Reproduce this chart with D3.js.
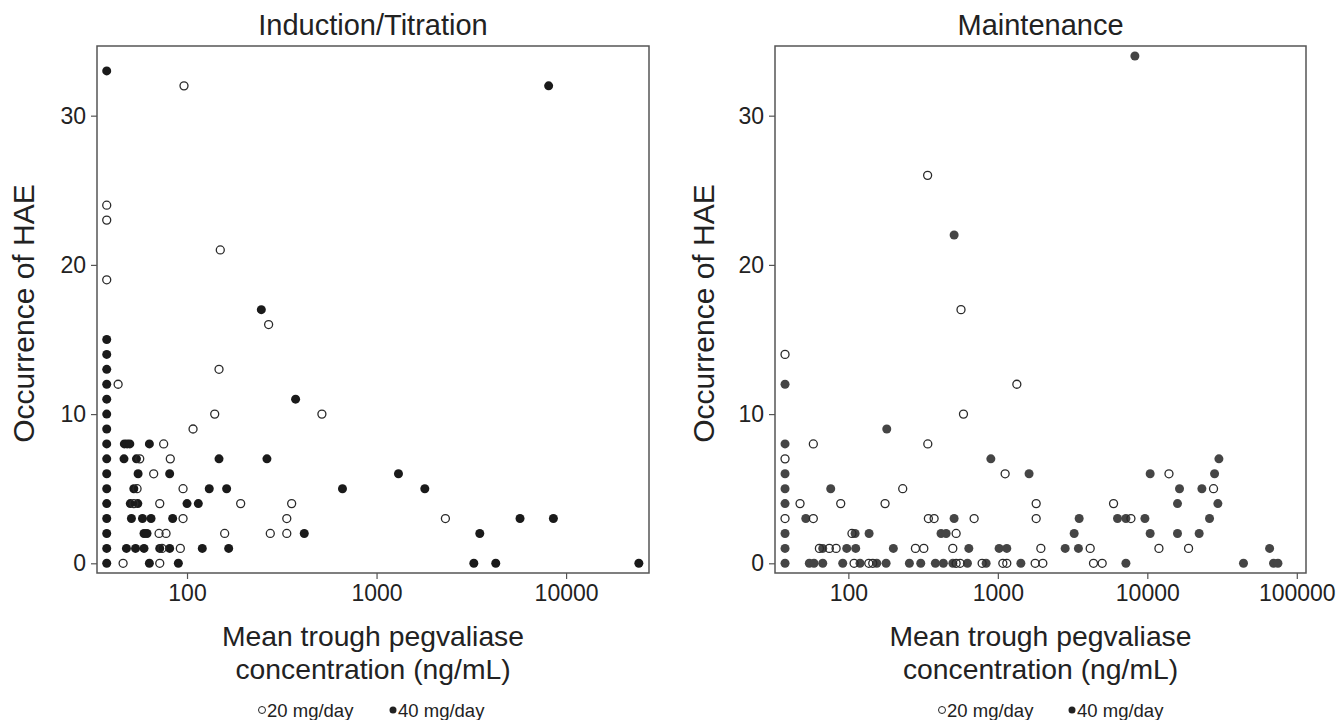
<!DOCTYPE html>
<html>
<head>
<meta charset="utf-8">
<script src="https://cdnjs.cloudflare.com/ajax/libs/d3/7.8.5/d3.min.js"></script>
<style>
  body { margin: 0; background: #fff; }
  svg { font-family: "Liberation Sans", Arial, Helvetica, sans-serif; }
</style>
</head>
<body>
<div id="chart"></div>
<script>
// concentration (ng/mL) and HAE count pairs
var LLOQ = 37.7;

var induction20 = [
  [LLOQ, 19], [LLOQ, 23], [LLOQ, 24],
  [46, 0], [71.8, 0],
  [73.8, 1], [92.2, 1],
  [71.2, 2], [77.5, 2], [158, 2], [275, 2], [336, 2],
  [95.3, 3], [336, 3], [2308, 3],
  [52.4, 4], [71.8, 4], [191.9, 4], [356.5, 4],
  [54.5, 5], [95.3, 5],
  [66.7, 6],
  [56.3, 7], [81.6, 7],
  [75.3, 8],
  [107.6, 9],
  [140, 10], [514.8, 10],
  [43.3, 12],
  [147.5, 13],
  [269.5, 16],
  [149.8, 21],
  [96.4, 32]
];

var induction40 = [
  [LLOQ, 0], [LLOQ, 1], [LLOQ, 2], [LLOQ, 3], [LLOQ, 4], [LLOQ, 5], [LLOQ, 6], [LLOQ, 7],
  [LLOQ, 8], [LLOQ, 9], [LLOQ, 10], [LLOQ, 11], [LLOQ, 12], [LLOQ, 13], [LLOQ, 14], [LLOQ, 15],
  [LLOQ, 33],
  [63.3, 0], [90, 0], [3260, 0], [4255, 0], [24200, 0],
  [47.9, 1], [53.5, 1], [59.3, 1], [71.8, 1], [81, 1], [120.4, 1], [165.9, 1],
  [59.3, 2], [61.5, 2], [415.5, 2], [3504, 2],
  [50.9, 3], [58.2, 3], [64.6, 3], [84, 3], [5714, 3], [8570, 3],
  [50.2, 4], [55, 4], [100, 4], [114.7, 4],
  [52.4, 5], [131, 5], [161.8, 5], [661, 5], [1797, 5],
  [55.2, 6], [81, 6], [1305, 6],
  [46.5, 7], [54.1, 7], [147.5, 7], [264, 7],
  [46.7, 8], [48.3, 8], [49.9, 8], [63.3, 8],
  [374, 11],
  [246.6, 17],
  [8090, 32]
];

var maintenance20 = [
  [LLOQ, 3], [LLOQ, 7], [LLOQ, 14],
  [109.2, 0], [137, 0], [145.6, 0], [526, 0], [559.5, 0], [785, 0], [1080, 0], [1148, 0],
  [1777, 0], [2000, 0], [4365, 0], [4990, 0],
  [64, 1], [74.6, 1], [82.8, 1], [281, 1], [319.7, 1], [499.6, 1], [1940, 1], [4148, 1],
  [11960, 1], [18880, 1],
  [105.7, 2], [526, 2],
  [58.3, 3], [343, 3], [374.7, 3], [694, 3], [1805, 3], [7770, 3],
  [47.5, 4], [88.9, 4], [176, 4], [1805, 4], [5945, 4],
  [231, 5], [27730, 5],
  [1119, 6], [13960, 6],
  [58.3, 8], [340, 8],
  [589, 10],
  [1340, 12],
  [567, 17],
  [339, 26]
];

var maintenance40 = [
  [LLOQ, 0], [LLOQ, 1], [LLOQ, 2], [LLOQ, 4], [LLOQ, 5], [LLOQ, 6], [LLOQ, 8], [LLOQ, 12],
  [54.8, 0], [58.9, 0], [67.4, 0], [91.7, 0], [119.7, 0], [154.9, 0], [178.8, 0], [256, 0],
  [305, 0], [382, 0], [432, 0], [500, 0], [626, 0], [835, 0], [1426, 0], [7190, 0],
  [44000, 0], [69900, 0], [74800, 0],
  [67.4, 1], [97.5, 1], [112, 1], [200, 1], [639.5, 1], [1020, 1], [1148, 1], [2822, 1],
  [3460, 1], [65800, 1],
  [110.9, 2], [137.6, 2], [417, 2], [451, 2], [3241, 2], [10450, 2], [15920, 2], [22230, 2],
  [51.9, 3], [510, 3], [3500, 3], [6318, 3], [7190, 3], [9635, 3], [26070, 3],
  [15920, 4], [29650, 4],
  [76.2, 5], [16420, 5], [23180, 5],
  [1618, 6], [10450, 6], [28180, 6],
  [898, 7], [30130, 7],
  [180.7, 9],
  [510, 22],
  [8260, 34]
];

var yTicks = [0, 10, 20, 30];
var xTicksInduction = [100, 1000, 10000];
var xTicksMaintenance = [100, 1000, 10000, 100000];
var legendLabels = ["20 mg/day", "40 mg/day"];

var width = 1339, height = 720;
var fontFamily = '"Liberation Sans", Arial, Helvetica, sans-serif';

var panels = [
  { title: "Induction/Titration", open: induction20, filled: induction40, xTicks: xTicksInduction,
    xDomain: [33.5, 27380], left: 97, right: 649, yTitleX: 34, fillColor: "#1a1a1a",
    legendX: [262, 393] },
  { title: "Maintenance", open: maintenance20, filled: maintenance40, xTicks: xTicksMaintenance,
    xDomain: [32.3, 115240], left: 775, right: 1306, yTitleX: 714, fillColor: "#454545",
    legendX: [942, 1072] }
];

var plotTop = 46, plotBottom = 573;

var svg = d3.select("#chart")
  .append("svg")
  .attr("width", width)
  .attr("height", height);

var y = d3.scaleLinear()
  .domain([-0.65, 34.67])
  .range([plotBottom, plotTop]);

panels.forEach(function (p) {
  var x = d3.scaleLog()
    .domain(p.xDomain)
    .range([p.left, p.right]);
  var cx = (p.left + p.right) / 2;

  // frame
  svg.append("rect")
    .attr("x", p.left)
    .attr("y", plotTop)
    .attr("width", p.right - p.left)
    .attr("height", plotBottom - plotTop)
    .style("fill", "none")
    .style("stroke", "#555")
    .style("stroke-width", "1.5px");

  var yAxis = svg.append("g")
    .attr("transform", "translate(" + p.left + ",0)")
    .call(d3.axisLeft(y).tickValues(yTicks).tickSize(6).tickSizeOuter(0).tickPadding(5));

  var xAxis = svg.append("g")
    .attr("transform", "translate(0," + plotBottom + ")")
    .call(d3.axisBottom(x).tickValues(p.xTicks).tickFormat(d3.format("d"))
      .tickSize(6).tickSizeOuter(0).tickPadding(6));

  [yAxis, xAxis].forEach(function (a) {
    a.select(".domain").remove();
    a.selectAll("line").style("stroke", "#555").style("stroke-width", "1.2px");
    a.selectAll("text")
      .style("font-family", fontFamily)
      .style("font-size", "23px")
      .style("fill", "#222");
  });

  // points: 40 mg/day filled, 20 mg/day hollow
  svg.append("g").selectAll("circle")
    .data(p.filled)
    .join("circle")
    .attr("cx", d => x(d[0]))
    .attr("cy", d => y(d[1]))
    .attr("r", 4.5)
    .style("fill", p.fillColor);

  svg.append("g").selectAll("circle")
    .data(p.open)
    .join("circle")
    .attr("cx", d => x(d[0]))
    .attr("cy", d => y(d[1]))
    .attr("r", 4)
    .style("fill", "none")
    .style("stroke", "#2a2a2a")
    .style("stroke-width", "1.3px");

  // titles
  svg.append("text")
    .attr("x", cx)
    .attr("y", 35)
    .attr("text-anchor", "middle")
    .style("font-size", "29px")
    .style("fill", "#222")
    .text(p.title);

  svg.append("text")
    .attr("transform", "translate(" + p.yTitleX + "," + ((plotTop + plotBottom) / 2 + 4) + ") rotate(-90)")
    .attr("text-anchor", "middle")
    .style("font-size", "30px")
    .style("fill", "#222")
    .text("Occurrence of HAE");

  svg.append("text")
    .attr("x", cx)
    .attr("y", 646)
    .attr("text-anchor", "middle")
    .style("font-size", "28.3px")
    .style("fill", "#222")
    .text("Mean trough pegvaliase");

  svg.append("text")
    .attr("x", cx)
    .attr("y", 679)
    .attr("text-anchor", "middle")
    .style("font-size", "28.3px")
    .style("fill", "#222")
    .text("concentration (ng/mL)");

  // legend
  var leg = svg.append("g").selectAll("g")
    .data(legendLabels)
    .join("g")
    .attr("transform", (d, i) => "translate(" + p.legendX[i] + ",710)");

  leg.append("circle")
    .attr("r", 3.5)
    .style("fill", (d, i) => i == 0 ? "none" : "#222")
    .style("stroke", (d, i) => i == 0 ? "#222" : "none")
    .style("stroke-width", "1px");

  leg.append("text")
    .attr("x", 5)
    .attr("y", 6.5)
    .style("font-size", "18.5px")
    .style("fill", "#222")
    .text(d => d);
});
</script>
</body>
</html>
